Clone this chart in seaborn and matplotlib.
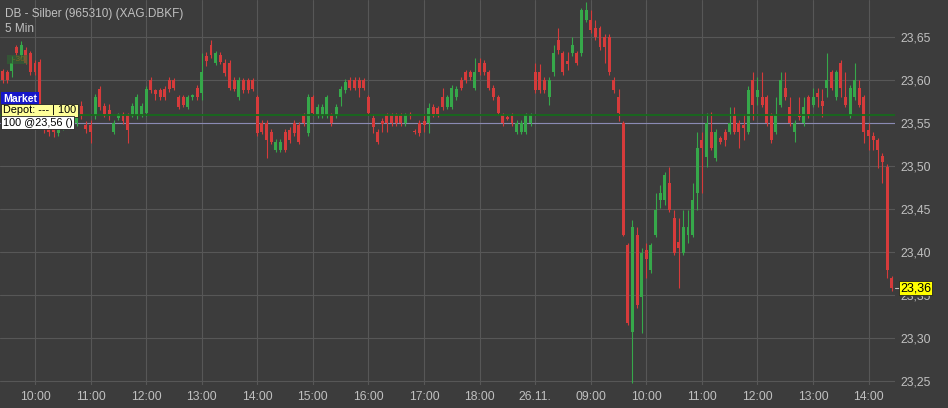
"""DB - Silber 5-min candles with position line and last-price tag."""
import matplotlib

matplotlib.use("Agg")
import matplotlib.pyplot as plt
import matplotlib.transforms as mtransforms
import numpy as np
import pandas as pd
import seaborn as sns

# 5-min bars: 25.11. 09:25-18:55 (bars 0-114), 26.11. 08:00-14:20 (bars 115-192)
opens = [
    23.610, 23.609, 23.610, 23.638, 23.629, 23.635, 23.631, 23.620, 23.621, 23.552, 23.548, 23.545,
    23.538, 23.545, 23.552, 23.550, 23.550, 23.570, 23.548, 23.548, 23.559, 23.590, 23.570, 23.565,
    23.540, 23.556, 23.560, 23.559, 23.560, 23.559, 23.560, 23.562, 23.600, 23.588, 23.588, 23.590,
    23.600, 23.600, 23.580, 23.580, 23.569, 23.580, 23.591, 23.585, 23.628, 23.641, 23.620, 23.629,
    23.620, 23.620, 23.600, 23.580, 23.600, 23.600, 23.600, 23.580, 23.550, 23.550, 23.540, 23.519,
    23.519, 23.540, 23.542, 23.550, 23.548, 23.559, 23.538, 23.580, 23.559, 23.559, 23.559, 23.559,
    23.559, 23.580, 23.588, 23.600, 23.600, 23.600, 23.600, 23.580, 23.556, 23.540, 23.552, 23.559,
    23.559, 23.559, 23.559, 23.550, 23.560, 23.541, 23.550, 23.552, 23.550, 23.569, 23.567, 23.580,
    23.569, 23.569, 23.580, 23.600, 23.609, 23.609, 23.591, 23.620, 23.620, 23.609, 23.591, 23.580,
    23.559, 23.557, 23.559, 23.540, 23.540, 23.540, 23.550,
    23.609, 23.609, 23.600, 23.580, 23.609, 23.647, 23.631, 23.622, 23.631, 23.631, 23.631, 23.670,
    23.670, 23.660, 23.660, 23.650, 23.650, 23.600, 23.580, 23.550, 23.408, 23.307, 23.420, 23.348,
    23.402, 23.379, 23.420, 23.460, 23.460, 23.480, 23.440, 23.412, 23.399, 23.420, 23.420, 23.469,
    23.530, 23.510, 23.540, 23.509, 23.532, 23.540, 23.540, 23.559, 23.550, 23.548, 23.540, 23.600,
    23.580, 23.580, 23.580, 23.559, 23.540, 23.571, 23.591, 23.569, 23.540, 23.561, 23.550, 23.580,
    23.571, 23.585, 23.575, 23.591, 23.609, 23.580, 23.620, 23.580, 23.559, 23.580, 23.591, 23.580,
    23.542, 23.535, 23.530, 23.512, 23.499, 23.370,
]
highs = [
    23.613, 23.612, 23.628, 23.641, 23.645, 23.638, 23.634, 23.623, 23.624, 23.556, 23.552, 23.548,
    23.548, 23.556, 23.556, 23.562, 23.562, 23.575, 23.552, 23.553, 23.584, 23.593, 23.573, 23.572,
    23.553, 23.562, 23.563, 23.562, 23.573, 23.584, 23.573, 23.593, 23.603, 23.590, 23.591, 23.593,
    23.603, 23.602, 23.583, 23.582, 23.583, 23.584, 23.594, 23.631, 23.632, 23.647, 23.634, 23.632,
    23.624, 23.623, 23.603, 23.603, 23.602, 23.602, 23.602, 23.583, 23.553, 23.553, 23.543, 23.531,
    23.531, 23.543, 23.545, 23.553, 23.551, 23.562, 23.584, 23.583, 23.572, 23.572, 23.583, 23.562,
    23.572, 23.593, 23.601, 23.603, 23.603, 23.603, 23.602, 23.583, 23.560, 23.543, 23.556, 23.562,
    23.562, 23.562, 23.562, 23.562, 23.563, 23.543, 23.553, 23.560, 23.573, 23.572, 23.570, 23.591,
    23.583, 23.594, 23.593, 23.603, 23.612, 23.612, 23.626, 23.625, 23.623, 23.612, 23.594, 23.583,
    23.562, 23.559, 23.562, 23.553, 23.553, 23.562, 23.562,
    23.620, 23.619, 23.603, 23.603, 23.641, 23.660, 23.634, 23.632, 23.650, 23.634, 23.684, 23.691,
    23.681, 23.670, 23.663, 23.653, 23.653, 23.603, 23.590, 23.552, 23.410, 23.437, 23.429, 23.405,
    23.410, 23.411, 23.469, 23.478, 23.493, 23.499, 23.449, 23.440, 23.449, 23.449, 23.480, 23.540,
    23.540, 23.562, 23.563, 23.543, 23.535, 23.543, 23.569, 23.569, 23.553, 23.560, 23.593, 23.609,
    23.603, 23.609, 23.583, 23.562, 23.580, 23.609, 23.609, 23.580, 23.553, 23.580, 23.580, 23.583,
    23.591, 23.591, 23.590, 23.631, 23.612, 23.612, 23.623, 23.609, 23.594, 23.620, 23.600, 23.583,
    23.550, 23.540, 23.533, 23.515, 23.502, 23.372,
]
lows = [
    23.597, 23.597, 23.603, 23.629, 23.626, 23.618, 23.606, 23.606, 23.548, 23.538, 23.535, 23.534,
    23.535, 23.542, 23.544, 23.547, 23.546, 23.555, 23.538, 23.527, 23.555, 23.565, 23.557, 23.553,
    23.537, 23.553, 23.549, 23.527, 23.557, 23.555, 23.557, 23.558, 23.585, 23.577, 23.577, 23.577,
    23.586, 23.588, 23.566, 23.568, 23.566, 23.577, 23.577, 23.577, 23.616, 23.626, 23.617, 23.618,
    23.605, 23.588, 23.587, 23.577, 23.585, 23.585, 23.587, 23.535, 23.537, 23.509, 23.525, 23.516,
    23.516, 23.516, 23.527, 23.535, 23.525, 23.547, 23.535, 23.559, 23.556, 23.556, 23.556, 23.547,
    23.556, 23.570, 23.585, 23.588, 23.588, 23.580, 23.588, 23.559, 23.538, 23.525, 23.540, 23.540,
    23.547, 23.547, 23.547, 23.547, 23.555, 23.537, 23.535, 23.540, 23.538, 23.557, 23.557, 23.565,
    23.566, 23.566, 23.577, 23.588, 23.597, 23.600, 23.588, 23.606, 23.606, 23.588, 23.577, 23.559,
    23.547, 23.553, 23.547, 23.537, 23.537, 23.537, 23.547,
    23.585, 23.585, 23.585, 23.571, 23.605, 23.630, 23.606, 23.612, 23.628, 23.617, 23.628, 23.667,
    23.655, 23.647, 23.635, 23.620, 23.606, 23.585, 23.552, 23.418, 23.315, 23.248, 23.335, 23.306,
    23.370, 23.376, 23.417, 23.451, 23.455, 23.446, 23.396, 23.358, 23.396, 23.410, 23.417, 23.449,
    23.469, 23.499, 23.518, 23.506, 23.525, 23.523, 23.537, 23.537, 23.521, 23.530, 23.537, 23.553,
    23.571, 23.568, 23.547, 23.527, 23.537, 23.568, 23.577, 23.547, 23.528, 23.554, 23.547, 23.556,
    23.568, 23.569, 23.557, 23.580, 23.588, 23.577, 23.580, 23.568, 23.556, 23.577, 23.568, 23.527,
    23.518, 23.519, 23.498, 23.480, 23.370, 23.355,
]
closes = [
    23.600, 23.600, 23.620, 23.631, 23.641, 23.620, 23.609, 23.609, 23.552, 23.545, 23.540, 23.540,
    23.545, 23.552, 23.548, 23.559, 23.559, 23.559, 23.543, 23.540, 23.580, 23.568, 23.560, 23.560,
    23.550, 23.560, 23.552, 23.542, 23.570, 23.580, 23.570, 23.590, 23.588, 23.584, 23.580, 23.580,
    23.590, 23.591, 23.569, 23.571, 23.580, 23.582, 23.580, 23.609, 23.622, 23.629, 23.631, 23.621,
    23.608, 23.591, 23.590, 23.600, 23.588, 23.588, 23.590, 23.538, 23.540, 23.530, 23.528, 23.528,
    23.528, 23.519, 23.530, 23.538, 23.528, 23.550, 23.580, 23.562, 23.569, 23.569, 23.580, 23.550,
    23.569, 23.590, 23.598, 23.591, 23.591, 23.591, 23.591, 23.562, 23.545, 23.528, 23.549, 23.550,
    23.550, 23.550, 23.550, 23.559, 23.558, 23.539, 23.538, 23.548, 23.567, 23.560, 23.560, 23.569,
    23.580, 23.591, 23.590, 23.591, 23.600, 23.603, 23.609, 23.609, 23.609, 23.591, 23.580, 23.562,
    23.550, 23.555, 23.550, 23.550, 23.550, 23.559, 23.559,
    23.588, 23.588, 23.588, 23.600, 23.631, 23.635, 23.609, 23.619, 23.641, 23.620, 23.681, 23.681,
    23.658, 23.650, 23.638, 23.638, 23.609, 23.588, 23.562, 23.420, 23.317, 23.429, 23.338, 23.399,
    23.392, 23.408, 23.449, 23.469, 23.490, 23.449, 23.399, 23.405, 23.429, 23.429, 23.460, 23.521,
    23.521, 23.550, 23.521, 23.540, 23.528, 23.530, 23.550, 23.540, 23.540, 23.544, 23.588, 23.571,
    23.588, 23.571, 23.550, 23.530, 23.559, 23.600, 23.580, 23.550, 23.550, 23.557, 23.569, 23.559,
    23.580, 23.580, 23.570, 23.600, 23.591, 23.609, 23.591, 23.571, 23.591, 23.600, 23.571, 23.540,
    23.535, 23.530, 23.519, 23.505, 23.379, 23.358,
]

tick_labels = ["10:00", "11:00", "12:00", "13:00", "14:00", "15:00", "16:00", "17:00",
               "18:00", "26.11.", "09:00", "10:00", "11:00", "12:00", "13:00", "14:00"]
tick_bars = [7, 19, 31, 43, 55, 67, 79, 91, 103, 115, 127, 139, 151, 163, 175, 187]
price_ticks = [23.25, 23.30, 23.35, 23.40, 23.45, 23.50, 23.55, 23.60, 23.65]
position_price = 23.559
order_line_price = 23.55

title = "DB - Silber (965310) (XAG.DBKF)"
subtitle = "5 Min"

BG = "#3c3c3c"
GRID = "#575757"
TXT = "#c0c0c0"
UP = "#36a84a"
DOWN = "#d63b3b"

sns.set_theme(style="darkgrid", rc={
    "axes.facecolor": BG, "figure.facecolor": BG, "grid.color": GRID,
    "grid.linewidth": 0.8, "axes.edgecolor": BG,
})
plt.rcParams["font.family"] = ["Liberation Sans", "DejaVu Sans"]

df = pd.DataFrame({"open": opens, "high": highs, "low": lows, "close": closes})
df["bar"] = np.arange(len(df))
df["up"] = df["close"] >= df["open"]
df["bottom"] = df[["open", "close"]].min(axis=1)
df["height"] = (df["close"] - df["open"]).abs().clip(lower=0.0013)

W, H = 948, 408
fig = plt.figure(figsize=(W / 100, H / 100), dpi=100)
ax = fig.add_axes([0, 23 / H, 895 / W, 1 - 23 / H])

for is_up, color in [(True, UP), (False, DOWN)]:
    sub = df[df["up"] == is_up]
    ax.vlines(sub["bar"], sub["low"], sub["high"], color=color, lw=0.8, zorder=3)
    ax.bar(sub["bar"], sub["height"], bottom=sub["bottom"], width=0.64,
           color=color, linewidth=0, zorder=4)

ax.axhline(order_line_price, color="#8a8ab4", lw=0.8, zorder=2)
ax.axhline(position_price, color="#176a1c", lw=1.3, zorder=5)

ax.set_xlim(-0.56, 192.7)
ax.set_ylim(23.2453, 23.693)
ax.set_xticks(tick_bars)
ax.set_xticklabels(tick_labels)
ax.set_yticks(price_ticks)
ax.set_yticklabels([f"{v:.2f}".replace(".", ",") for v in price_ticks])
ax.yaxis.tick_right()
ax.tick_params(axis="both", length=0, colors=TXT, labelsize=8.7)
ax.tick_params(axis="y", pad=4)
ax.tick_params(axis="x", pad=4)
ax.grid(True, color=GRID, lw=0.8)
for s in ax.spines.values():
    s.set_visible(False)

fig.text(5 / W, 1 - 14 / H, title, color=TXT, fontsize=8.5, va="center", ha="left")
fig.text(5 / W, 1 - 29 / H, subtitle, color=TXT, fontsize=8.5, va="center", ha="left")

# order / position labels at the left edge
fig.text(3 / W, 1 - 99 / H, "Market", color="white", fontsize=7.6, fontweight="bold",
         va="center", ha="left",
         bbox=dict(boxstyle="square,pad=0.15", fc="#1616c8", ec="none"))
fig.text(3 / W, 1 - 110.5 / H, "Depot: --- | 100", color="black", fontsize=7.8,
         va="center", ha="left",
         bbox=dict(boxstyle="square,pad=0.15", fc="#ffff99", ec="#222222", lw=0.6))
fig.text(3 / W, 1 - 122.5 / H, "100 @23,56 ()", color="black", fontsize=7.8,
         va="center", ha="left",
         bbox=dict(boxstyle="square,pad=0.15", fc="white", ec="#222222", lw=0.6))
fig.text(8 / W, 1 - 59.5 / H, "  -30 ", color="#8a6a20", fontsize=6, va="center",
         ha="left", alpha=0.8,
         bbox=dict(boxstyle="square,pad=0.1", fc="#2f6a32", ec="none", alpha=0.55))

# last price tag
trans = mtransforms.blended_transform_factory(ax.transAxes, ax.transData)
last = df["close"].iloc[-1]
ax.plot([1.0, 1.006], [last, last], color=TXT, lw=0.8, transform=trans, clip_on=False)
ax.text(1 + 5 / 895, last, f"{last:.2f}".replace(".", ","), transform=trans,
        color="black", fontsize=9, va="center", ha="left", clip_on=False, zorder=10,
        bbox=dict(boxstyle="square,pad=0.1", fc="#ffff00", ec="#222222", lw=0.6))

fig.savefig("out.png", dpi=100, facecolor=BG)
